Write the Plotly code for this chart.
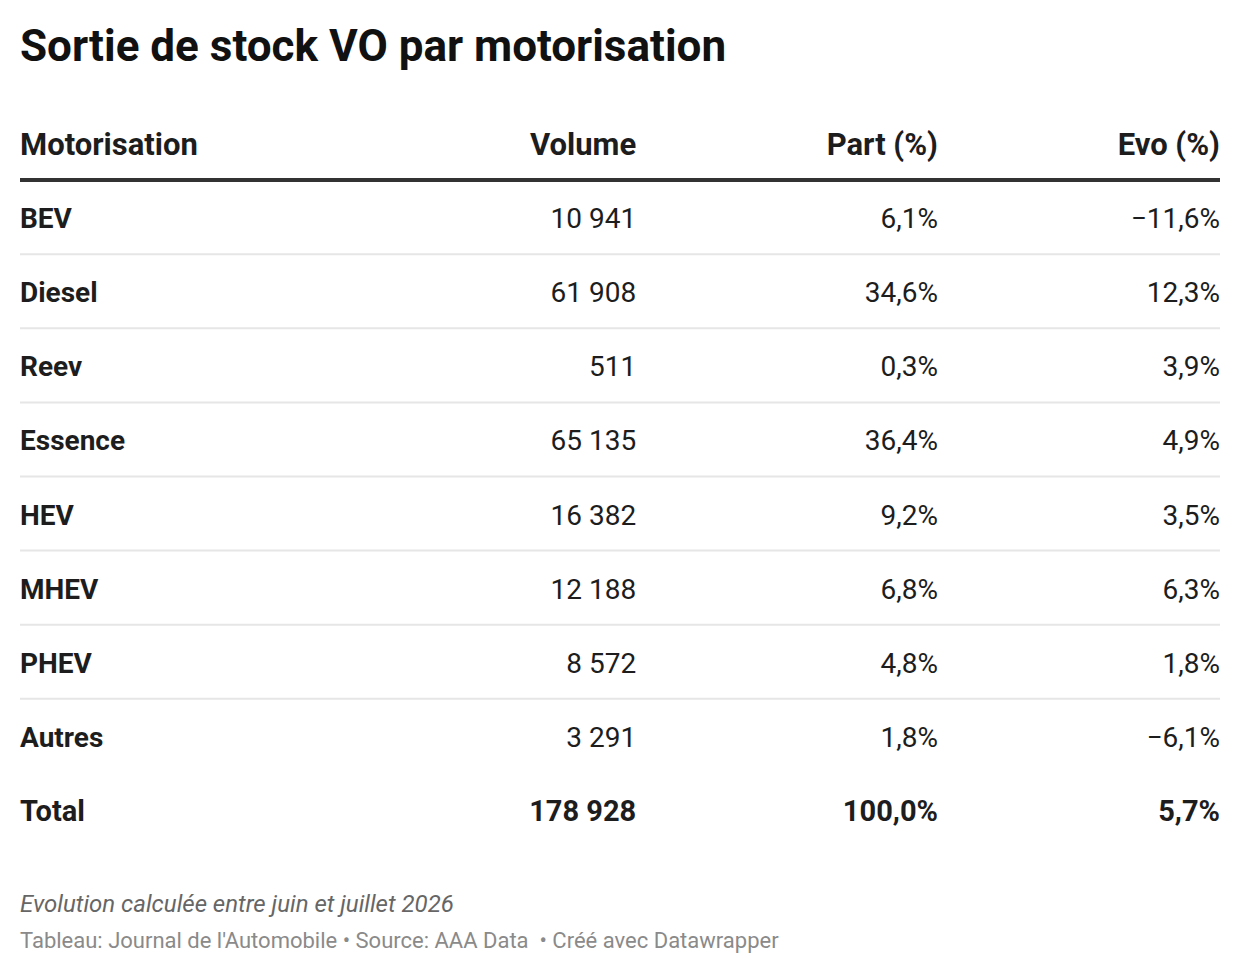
import plotly.graph_objects as go

# data
motorisations = ['BEV', 'Diesel', 'Reev', 'Essence', 'HEV', 'MHEV', 'PHEV', 'Autres', 'Total']
volumes = ['10 941', '61 908', '511', '65 135', '16 382', '12 188', '8 572', '3 291', '178 928']
parts = ['6,1%', '34,6%', '0,3%', '36,4%', '9,2%', '6,8%', '4,8%', '1,8%', '100,0%']
evos = ['−11,6%', '12,3%', '3,9%', '4,9%', '3,5%', '6,3%', '1,8%', '−6,1%', '5,7%']
headers = ['Motorisation', 'Volume', 'Part (%)', 'Evo (%)']

title = 'Sortie de stock VO par motorisation'
note = 'Evolution calculée entre juin et juillet 2026'
credits = "Tableau: Journal de l'Automobile • Source: AAA Data  • Créé avec Datawrapper"

# column anchors on a 0..1 x axis (left edge for the first column, right edge for the others)
col_pos = [0, 0.5135, 0.765, 1.0]
FONT = 'Roboto'
TEXT = '#1d1d1d'
LINE_SHIFT = 0.446  # separator sits a bit above the mid point between rows

rows = list(range(len(motorisations) + 1))  # 0 = header row
n = len(motorisations)
sizes = [31] + [28] * (n - 1) + [29]


def cell_text(header, values, bold_all=False):
    out = ['<b>%s</b>' % header]
    for i, v in enumerate(values):
        if bold_all or i == n - 1:
            out.append('<b>%s</b>' % v)
        else:
            out.append(v)
    return out


fig = go.Figure()

columns = [motorisations, volumes, parts, evos]
for j, (h, vals) in enumerate(zip(headers, columns)):
    fig.add_trace(go.Scatter(
        x=[col_pos[j]] * len(rows), y=rows,
        mode='text',
        text=cell_text(h, vals, bold_all=(j == 0)),
        textposition='middle right' if j == 0 else 'middle left',
        textfont=dict(family=FONT, size=sizes, color=TEXT),
        hoverinfo='skip', showlegend=False,
    ))

# row separators
fig.add_shape(type='line', xref='x', yref='y', x0=0, x1=1,
              y0=LINE_SHIFT, y1=LINE_SHIFT,
              line=dict(color='#333333', width=4))
for r in rows[1:-2]:
    fig.add_shape(type='line', xref='x', yref='y', x0=0, x1=1,
                  y0=r + LINE_SHIFT, y1=r + LINE_SHIFT,
                  line=dict(color='#e6e6e6', width=2))

fig.add_annotation(text='<i>%s</i>' % note, xref='paper', yref='paper', x=0, y=0,
                   xanchor='left', yanchor='middle', xshift=-2, yshift=-53, showarrow=False,
                   font=dict(family=FONT, size=24, color='#666666'))
fig.add_annotation(text=credits, xref='paper', yref='paper', x=0, y=0,
                   xanchor='left', yanchor='middle', xshift=-2, yshift=-89, showarrow=False,
                   font=dict(family=FONT, size=22, color='#8a8a8a'))

fig.update_layout(
    width=1240, height=974,
    margin=dict(l=20, r=20, t=110, b=123),
    paper_bgcolor='white', plot_bgcolor='white',
    title=dict(text='<b>%s</b>' % title, x=20 / 1240, xanchor='left',
               y=1 - 46 / 974, yanchor='middle',
               font=dict(family=FONT, size=44, color='#111111')),
)
fig.update_xaxes(range=[0, 1], visible=False, fixedrange=True)
fig.update_yaxes(range=[n + 0.5, -0.5], visible=False, fixedrange=True)

fig.write_html('out.html', config={'displayModeBar': False},
               post_script="document.body.style.margin='0';")
